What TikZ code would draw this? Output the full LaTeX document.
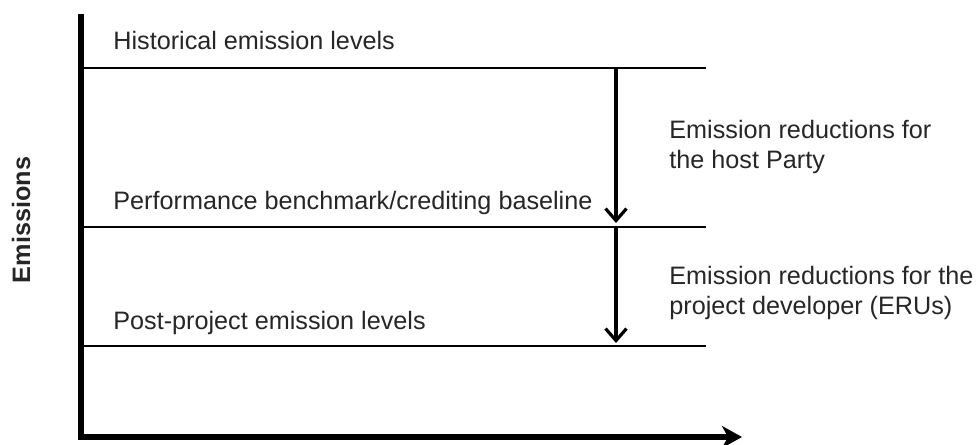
\documentclass[tikz,border=0pt]{standalone}
\usepackage{fontspec}
\setmainfont{Liberation Sans}
\usetikzlibrary{arrows.meta, positioning}

\begin{document}
\begin{tikzpicture}[
    x=0.5pt, y=-0.5pt,
    font=\fontsize{12.6}{15}\selectfont,
    label/.style={
        anchor=base west,
        inner sep=0pt,
        text=black!85
    },
    side/.style={
        anchor=base west,
        inner sep=0pt,
        align=left,
        text=black!85
    },
    level/.style={line width=0.8pt},
    axis/.style={line width=2.8pt, line join=miter,
        -{Stealth[length=10pt, width=11pt, inset=3pt]}},
    drop/.style={line width=1.6pt,
        -{Straight Barb[length=6pt, width=10.5pt]}}
]
\useasboundingbox (0,0) rectangle (977,444);

% ===== AXES =====
\coordinate (ytop) at (81,14);
\coordinate (origin) at (81,437);
\coordinate (xend) at (742,437);

\node[font=\fontsize{12.6}{15}\selectfont\bfseries, rotate=90, text=black!85]
    (ylabel) at (21,220) {Emissions};

% ===== LEVEL LINES =====
\coordinate (histL) at (81,68);
\coordinate (histR) at (706,68);
\coordinate (benchL) at (81,227);
\coordinate (benchR) at (706,227);
\coordinate (postL) at (81,346);
\coordinate (postR) at (706,346);

% rail for the two reduction arrows
\coordinate (rail) at (616,0);
\coordinate (tipA) at (616,223);
\coordinate (tipB) at (616,343);

% ===== LEVEL LABELS =====
\node[label] (hist) at (113,50) {Historical emission levels};
\node[label] (bench) at (113,209) {Performance benchmark/crediting baseline};
\node[label] (post) at (113,329) {Post-project emission levels};

% ===== REDUCTION LABELS =====
% base anchor sits on the last line
\node[side] (redhost) at (669,168)
{Emission reductions for\\the host Party};
\node[side] (rederus) at (669,314)
{Emission reductions for the\\project developer (ERUs)};

% ===== DRAWING =====
\draw[level] (histL) -- (histR);
\draw[level] (benchL) -- (benchR);
\draw[level] (postL) -- (postR);

\draw[drop] (rail |- histL) -- (tipA);
\draw[drop] (rail |- benchL) -- (tipB);

\draw[axis] (ytop) -- (origin) -- (xend);

\end{tikzpicture}
\end{document}
